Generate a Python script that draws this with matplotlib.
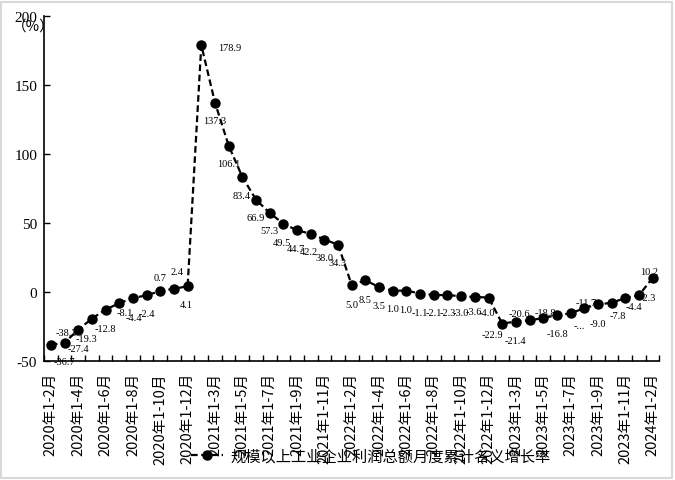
import matplotlib
matplotlib.use("Agg")
import matplotlib.pyplot as plt
from matplotlib.patches import Rectangle

plt.rcParams['font.family'] = ['Noto Sans CJK SC', 'DejaVu Sans']

categories = (
    [f"2020年1-{m}月" for m in range(2, 13)]
    + [f"2021年1-{m}月" for m in range(2, 13)]
    + [f"2022年1-{m}月" for m in range(2, 13)]
    + [f"2023年1-{m}月" for m in range(2, 13)]
    + ["2024年1-2月"]
)
values_2020 = [-38.3, -36.7, -27.4, -19.3, -12.8, -8.1, -4.4, -2.4, 0.7, 2.4, 4.1]
values_2021 = [178.9, 137.3, 106.1, 83.4, 66.9, 57.3, 49.5, 44.7, 42.2, 38.0, 34.3]
values_2022 = [5.0, 8.5, 3.5, 1.0, 1.0, -1.1, -2.1, -2.3, -3.0, -3.6, -4.0]
values_2023 = [-22.9, -21.4, -20.6, -18.8, -16.8, -15.5, -11.7, -9.0, -7.8, -4.4, -2.3]
values_2024 = [10.2]
values = values_2020 + values_2021 + values_2022 + values_2023 + values_2024
series_name = "规模以上工业企业利润总额月度累计名义增长率"
y_ticks = [-50, 0, 50, 100, 150, 200]
truncated_labels = {38: "-..."}

# label offsets in pixels (dx right, dy down)
label_offsets = [
    (16, -12.5), (0, 19), (0, 19), (-5, 20), (0, 19), (6, 9), (1, 19), (0, 18),
    (0, -14), (3, -17), (-1, 18),
    (28, 2), (0, 17.5), (0, 18), (-1, 19), (0, 18), (0, 18), (-1, 19), (-1, 18),
    (-1.5, 18), (0, 18), (-1, 18),
    (0, 19), (0, 19), (0, 18.5), (0, 18), (-1, 18.5), (0, 19), (0, 17.5), (0, 17),
    (0, 16), (-1, 15), (-2, 15),
    (-10, 11), (0, 19), (-10.5, -6.5), (2, -5), (1, 18), (9, 12), (2, -6), (0, 19),
    (6, 13), (9, 8), (9, 2),
    (-4, -6),
]

W, H = 675, 481
fig = plt.figure(figsize=(W / 100, H / 100), dpi=100)
ax = fig.add_axes([44 / W, 1 - 362 / H, (659.5 - 44) / W, (362 - 17) / H])

x = list(range(len(values)))
ax.plot(x, values, color='black', lw=1.6, linestyle=(0, (3, 1.6)),
        marker='o', markersize=6.5, markerfacecolor='black',
        markeredgecolor='black', zorder=3, label=series_name)

for i, v in enumerate(values):
    txt = truncated_labels.get(i, f"{v:.1f}")
    dx, dy = label_offsets[i]
    ax.annotate(txt, (i, v), xytext=(dx, -dy), textcoords='offset pixels',
                ha='center', va='center', fontsize=7.5,
                family='Liberation Serif', color='black', zorder=2)

ax.set_xlim(-0.5, len(values) - 0.5)
ax.set_ylim(-50, 200)
ax.set_yticks(y_ticks)
ax.set_yticklabels([str(t) for t in y_ticks], family='Liberation Serif', fontsize=11)

ax.set_xticks(x[::2])
ax.set_xticklabels(categories[::2], rotation=90, fontsize=10.5, va='top', ha='center')
ax.set_xticks([i - 0.5 for i in range(len(values) + 1)], minor=True)
ax.tick_params(axis='x', which='major', length=0, pad=8)
ax.tick_params(axis='x', which='minor', direction='in', length=4, width=1, color='black')
ax.tick_params(axis='y', direction='in', length=4, width=1, pad=5)

for s in ['top', 'right']:
    ax.spines[s].set_visible(False)
for s in ['left', 'bottom']:
    ax.spines[s].set_linewidth(1.2)
    ax.spines[s].set_color('black')

fig.text(33 / W, 1 - 27 / H, "（%）", ha='center', va='center', fontsize=10.5)

fig.legend(loc='center', bbox_to_anchor=(371 / W, 1 - 457 / H), frameon=False,
           fontsize=11, handlelength=2.1, handletextpad=0.5)

fig.patches.append(Rectangle((0.002, 0.004), 0.994, 0.99, transform=fig.transFigure,
                             fill=False, edgecolor='#d9d9d9', lw=1.5))

fig.savefig("out.png", dpi=100)
